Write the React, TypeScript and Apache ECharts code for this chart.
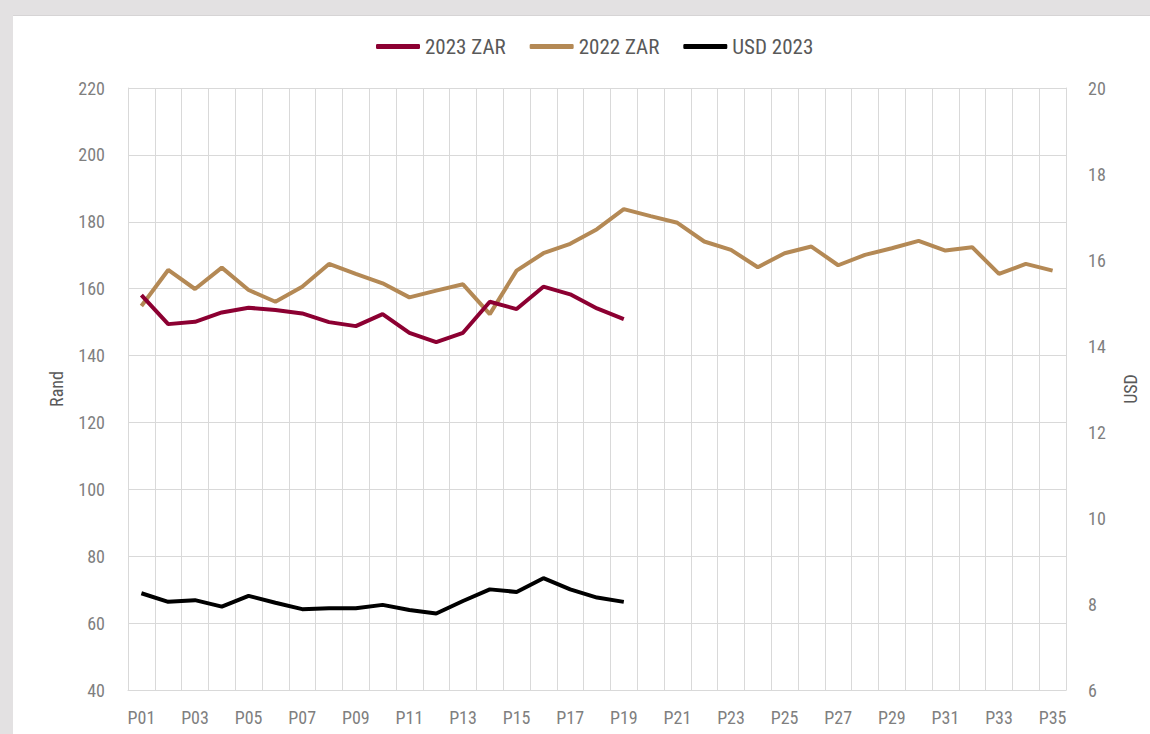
import React, { useEffect, useRef } from "react";
import * as echarts from "echarts";

const periods = Array.from({ length: 35 }, (_, i) => "P" + String(i + 1).padStart(2, "0"));

const zar2023 = [158.1, 149.4, 150.1, 152.9, 154.3, 153.6, 152.6, 150.0, 148.8, 152.4, 146.8, 144.0, 146.8, 156.1, 153.9, 160.6, 158.3, 154.1, 150.9];

const zar2022 = [154.8, 165.6, 159.9, 166.3, 159.6, 156.1, 160.6, 167.4, 164.4, 161.6, 157.4, 159.4, 161.3, 152.4, 165.4, 170.6, 173.4, 177.8, 183.8, 181.7, 179.7, 174.1, 171.6, 166.4, 170.6, 172.6, 167.0, 170.1, 172.1, 174.3, 171.4, 172.4, 164.4, 167.4, 165.4];

const usd2023 = [8.25, 8.05, 8.09, 7.94, 8.19, 8.03, 7.88, 7.9, 7.9, 7.98, 7.86, 7.78, 8.07, 8.34, 8.28, 8.6, 8.34, 8.15, 8.05];

const FONT = "'Liberation Sans Narrow', 'Roboto Condensed', 'DejaVu Sans Condensed', sans-serif";

export default function App() {
  const ref = useRef<HTMLDivElement>(null);
  useEffect(() => {
    document.body.style.margin = "0";
    if (!ref.current) return;
    const chart = echarts.init(ref.current, null, { renderer: "svg" });
    chart.setOption({
      animation: false,
      textStyle: { fontFamily: FONT },
      legend: {
        top: 31,
        left: 371,
        itemWidth: 44,
        itemHeight: 5,
        itemGap: 24,
        icon: "roundRect",
        textStyle: { fontFamily: FONT, fontSize: 21, color: "#595959" },
        data: ["2023 ZAR", "2022 ZAR", "USD 2023"],
      },
      grid: { left: 128, right: 84, top: 88, bottom: 44 },
      xAxis: {
        type: "category",
        data: periods,
        boundaryGap: true,
        axisLine: { lineStyle: { color: "#d9d9d9", width: 1 } },
        axisTick: { show: false },
        axisLabel: { interval: 1, color: "#7f7f7f", fontSize: 18, margin: 18, fontFamily: FONT },
        splitLine: { show: true, interval: 0, lineStyle: { color: "#d9d9d9", width: 1 } },
      },
      yAxis: [
        {
          type: "value",
          min: 40,
          max: 220,
          interval: 20,
          name: "Rand",
          nameLocation: "middle",
          nameGap: 63,
          nameTextStyle: { color: "#595959", fontSize: 18, fontFamily: FONT },
          axisLine: { show: true, lineStyle: { color: "#d9d9d9" } },
          axisTick: { show: false },
          axisLabel: { color: "#7f7f7f", fontSize: 18, margin: 23, fontFamily: FONT },
          splitLine: { show: true, lineStyle: { color: "#d9d9d9", width: 1 } },
        },
        {
          type: "value",
          min: 6,
          max: 20,
          interval: 2,
          name: "USD",
          nameLocation: "middle",
          nameGap: 55,
          nameRotate: 90,
          nameTextStyle: { color: "#595959", fontSize: 18, fontFamily: FONT },
          axisLine: { show: true, lineStyle: { color: "#d9d9d9" } },
          axisTick: { show: false },
          axisLabel: { color: "#7f7f7f", fontSize: 18, margin: 22, fontFamily: FONT },
          splitLine: { show: false },
        },
      ],
      series: [
        {
          name: "2023 ZAR",
          type: "line",
          data: zar2023,
          symbol: "none",
          lineStyle: { width: 4, color: "#8c0032" },
          itemStyle: { color: "#8c0032" },
          z: 3,
        },
        {
          name: "2022 ZAR",
          type: "line",
          data: zar2022,
          symbol: "none",
          lineStyle: { width: 4, color: "#b48955" },
          itemStyle: { color: "#b48955" },
          z: 2,
        },
        {
          name: "USD 2023",
          type: "line",
          yAxisIndex: 1,
          data: usd2023,
          symbol: "none",
          lineStyle: { width: 4, color: "#000000" },
          itemStyle: { color: "#000000" },
          z: 4,
        },
      ],
    });
    return () => chart.dispose();
  }, []);
  return (
    <div style={{ position: "relative", width: 1150, height: 734, background: "#e3e1e2", overflow: "hidden" }}>
      <div style={{ position: "absolute", left: 13, top: 15, width: 1150, height: 734, background: "#ffffff", borderTop: "1px solid #d6d4d5" }} />
      <div ref={ref} style={{ position: "absolute", left: 0, top: 0, width: 1150, height: 734 }} />
    </div>
  );
}
